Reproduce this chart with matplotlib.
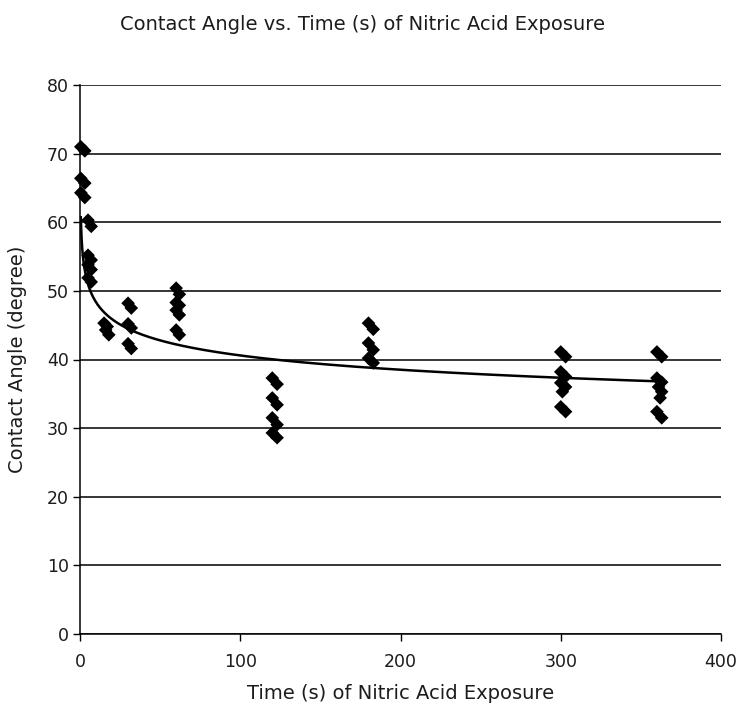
"""Contact angle vs. nitric acid exposure time, Excel-style scatter with power trendline."""

import matplotlib
matplotlib.use("Agg")
import matplotlib.pyplot as plt
import numpy as np

# measured points (two readings per droplet, plotted slightly offset in time)
TIME_S = [
    0.5, 3, 0.5, 3, 0.5, 3,
    5, 7, 5, 7, 5, 7, 5, 7,
    15, 17, 16, 18,
    30, 32, 30, 32, 30, 32,
    60, 62, 60, 62, 60, 62, 60, 62,
    120, 123, 120, 123, 120, 123, 120, 123,
    180, 183, 180, 183, 180, 183,
    300, 303, 300, 303, 300, 303, 301, 300, 303,
    360, 363, 360, 363, 361, 363, 362, 360, 363,
]
ANGLE_DEG = [
    71.0, 70.4, 66.4, 65.7, 64.3, 63.6,
    60.3, 59.4, 55.2, 54.5, 53.8, 53.1, 51.9, 51.3,
    45.3, 44.8, 44.3, 43.6,
    48.2, 47.5, 45.2, 44.6, 42.3, 41.6,
    50.4, 49.5, 48.3, 47.9, 47.2, 46.5, 44.3, 43.6,
    37.3, 36.4, 34.4, 33.4, 31.5, 30.5, 29.3, 28.6,
    45.3, 44.4, 42.4, 41.4, 40.2, 39.5,
    41.1, 40.4, 38.2, 37.5, 36.6, 36.0, 35.3, 33.1, 32.4,
    41.1, 40.4, 37.3, 36.7, 36.0, 35.3, 34.4, 32.4, 31.5,
]

# power trendline y = c * x^d
TREND_C = 57.6
TREND_D = -0.076

X_TICKS = [0, 100, 200, 300, 400]
Y_TICKS = [0, 10, 20, 30, 40, 50, 60, 70, 80]

TEXT_COLOR = "#1c1c1c"
FONT = "DejaVu Sans"


def main() -> int:
    plt.rcParams["font.family"] = [FONT]
    fig = plt.figure(figsize=(7.44, 7.10), dpi=100)
    ax = fig.add_axes([80 / 744, 1 - 634 / 710, 641 / 744, 549 / 710])

    ax.set_xlim(X_TICKS[0], X_TICKS[-1])
    ax.set_ylim(Y_TICKS[0], Y_TICKS[-1])
    ax.set_xticks(X_TICKS)
    ax.set_yticks(Y_TICKS)

    ax.grid(True, axis="y", color="black", linewidth=1.1)
    ax.set_axisbelow(True)
    for side in ("top", "right"):
        ax.spines[side].set_visible(False)
    for side in ("left", "bottom"):
        ax.spines[side].set_color("black")
        ax.spines[side].set_linewidth(1.1)

    ax.tick_params(direction="out", length=5, width=1, colors="black",
                   labelcolor=TEXT_COLOR, labelsize=12.5)
    ax.tick_params(axis="x", pad=9)
    ax.tick_params(axis="y", pad=3)

    ax.scatter(TIME_S, ANGLE_DEG, marker="D", s=48, color="black",
               edgecolors="none", zorder=3, clip_on=False)

    trend_x = np.linspace(min(TIME_S), max(TIME_S), 800)
    ax.plot(trend_x, TREND_C * trend_x ** TREND_D, color="black",
            linewidth=1.8, zorder=4)

    ax.set_xlabel("Time (s) of Nitric Acid Exposure", fontsize=14,
                  color=TEXT_COLOR, labelpad=9)
    ax.set_ylabel("Contact Angle (degree)", fontsize=14,
                  color=TEXT_COLOR, labelpad=14)
    fig.text(363 / 744, 1 - 25 / 710,
             "Contact Angle vs. Time (s) of Nitric Acid Exposure",
             ha="center", va="center", fontsize=14, color=TEXT_COLOR)

    fig.savefig("out.png", dpi=100, facecolor="white")
    plt.close(fig)
    return 0


if __name__ == "__main__":
    raise SystemExit(main())
